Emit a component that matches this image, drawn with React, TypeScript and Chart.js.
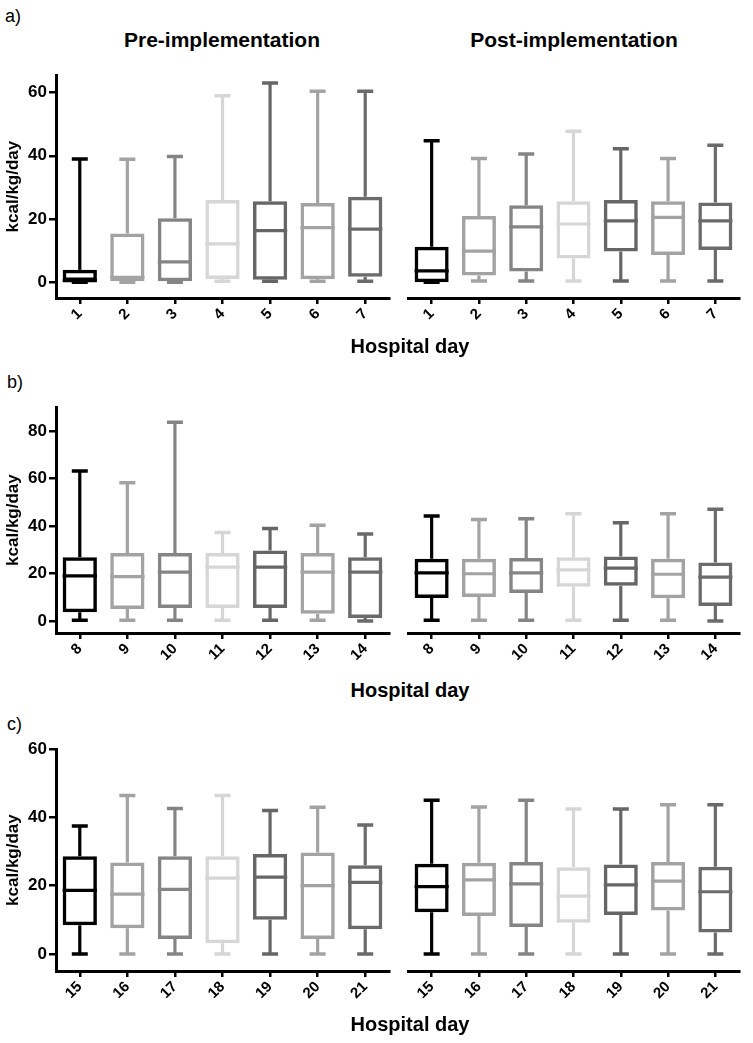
import React, { useEffect, useRef } from 'react';
import { Chart, registerables } from 'chart.js';

Chart.register(...registerables);

const FONT = 'Arial, "Liberation Sans", Helvetica, sans-serif';

// ---------- categories ----------
const daysA = ['1', '2', '3', '4', '5', '6', '7'];
const daysB = ['8', '9', '10', '11', '12', '13', '14'];
const daysC = ['15', '16', '17', '18', '19', '20', '21'];

// ---------- tick labels ----------
const ticksA = [0, 20, 40, 60];
const ticksB = [0, 20, 40, 60, 80];
const ticksC = [0, 20, 40, 60];

// ---------- box colours (per hospital day within a panel) ----------
const boxColors = ['#000000', '#a3a3a3', '#858585', '#d6d6d6', '#666666', '#a3a3a3', '#6b6b6b'];

// ---------- a) Pre-implementation ----------
const preA_min = [0, 0, 0, 0.3, 0.3, 0.3, 0.3];
const preA_q1 = [0, 0.3, 0.3, 1, 0.8, 0.9, 1.7];
const preA_med = [0.5, 1.5, 6.4, 12.1, 16.3, 17.3, 16.8];
const preA_q3 = [3.9, 15.4, 20.2, 26, 25.6, 25.1, 27];
const preA_max = [39, 38.9, 39.8, 59, 63, 60.4, 60.4];

// ---------- a) Post-implementation ----------
const postA_min = [0, 0.4, 0.4, 0.4, 0.4, 0.4, 0.4];
const postA_q1 = [0, 2.1, 3.4, 7.5, 9.7, 8.6, 10.2];
const postA_med = [3.6, 9.8, 17.5, 18.4, 19.4, 20.5, 19.4];
const postA_q3 = [11.2, 20.9, 24.3, 25.6, 26, 25.6, 25.2];
const postA_max = [44.7, 39.1, 40.5, 47.7, 42.2, 39.1, 43.3];

// ---------- b) Pre-implementation ----------
const preB_min = [0.4, 0.4, 0.4, 0.4, 0.4, 0.4, 0];
const preB_q1 = [3.7, 5.1, 5.5, 5.5, 5.5, 3.1, 1.3];
const preB_med = [19, 18.7, 20.6, 22.7, 22.7, 20.6, 20.6];
const preB_q3 = [26.9, 28.7, 28.7, 28.7, 29.7, 28.7, 26.9];
const preB_max = [63.2, 58.2, 83.7, 37.3, 39, 40.3, 36.6];

// ---------- b) Post-implementation ----------
const postB_min = [0.4, 0.4, 0.4, 0.4, 0.4, 0.4, 0];
const postB_q1 = [9.7, 10.1, 11.8, 14.4, 14.9, 9.6, 6.3];
const postB_med = [20.3, 19.9, 20.3, 21.5, 22.3, 19.7, 18.5];
const postB_q3 = [26.2, 26.2, 26.5, 26.8, 27.2, 26.2, 24.6];
const postB_max = [44.2, 42.7, 43, 45.1, 41.3, 45.1, 47];

// ---------- c) Pre-implementation ----------
const preC_min = [0, 0, 0, 0, 0, 0, 0];
const preC_q1 = [8.4, 7.5, 4.4, 3.1, 10, 4.4, 7.2];
const preC_med = [18.6, 17.5, 18.9, 22.2, 22.5, 20, 21];
const preC_q3 = [28.6, 26.8, 28.6, 28.6, 29.3, 29.7, 26];
const preC_max = [37.5, 46.4, 42.6, 46.4, 42, 43, 37.8];

// ---------- c) Post-implementation ----------
const postC_min = [0, 0, 0, 0, 0, 0, 0];
const postC_q1 = [12.2, 11.1, 7.9, 9.1, 11.4, 12.7, 6.3];
const postC_med = [19.7, 21.7, 20.5, 16.9, 20.2, 21.3, 18.2];
const postC_q3 = [26.4, 26.7, 26.9, 25.4, 26.2, 26.9, 25.5];
const postC_max = [45, 43, 45, 42.4, 42.4, 43.7, 43.7];

type PanelProps = {
  labels: string[];
  mins: number[];
  q1s: number[];
  meds: number[];
  q3s: number[];
  maxs: number[];
  yMin: number;
  yMax: number;
  yTicks: number[];
  chartTop: number;
  chartBottom: number;
  side: 'pre' | 'post';
};

const PAD_TOP = 12;
const X_AXIS_H = 45;

function Panel(p: PanelProps) {
  const ref = useRef<HTMLCanvasElement | null>(null);
  const isPre = p.side === 'pre';
  const canvasLeft = isPre ? 0 : 396;
  const canvasWidth = isPre ? 392 : 357;
  const padLeft = isPre ? 0 : 12;
  const padRight = isPre ? 3 : 14;
  const canvasTop = p.chartTop - PAD_TOP;
  const canvasHeight = p.chartBottom - p.chartTop + PAD_TOP + X_AXIS_H;

  useEffect(() => {
    if (!ref.current) return;
    const whiskers = {
      id: 'whiskers',
      afterDatasetsDraw(chart: any) {
        const ctx = chart.ctx;
        const y = chart.scales.y;
        const meta = chart.getDatasetMeta(0);
        meta.data.forEach((el: any, i: number) => {
          const x = el.x;
          const w = el.width;
          const col = boxColors[i % boxColors.length];
          const pMin = y.getPixelForValue(p.mins[i]);
          const pQ1 = y.getPixelForValue(p.q1s[i]);
          const pMed = y.getPixelForValue(p.meds[i]);
          const pQ3 = y.getPixelForValue(p.q3s[i]);
          const pMax = y.getPixelForValue(p.maxs[i]);
          ctx.save();
          ctx.strokeStyle = col;
          ctx.lineCap = 'butt';
          ctx.lineWidth = 3.2;
          ctx.beginPath();
          ctx.moveTo(x, pQ3);
          ctx.lineTo(x, pMax);
          ctx.moveTo(x, pQ1);
          ctx.lineTo(x, pMin);
          ctx.stroke();
          ctx.lineWidth = 3.5;
          ctx.beginPath();
          ctx.moveTo(x - 8, pMax);
          ctx.lineTo(x + 8, pMax);
          ctx.moveTo(x - 8, pMin);
          ctx.lineTo(x + 8, pMin);
          ctx.stroke();
          ctx.lineWidth = 3.2;
          ctx.beginPath();
          ctx.moveTo(x - w / 2, pMed);
          ctx.lineTo(x + w / 2, pMed);
          ctx.stroke();
          ctx.restore();
        });
      },
    };

    const chart = new Chart(ref.current, {
      type: 'bar',
      data: {
        labels: p.labels,
        datasets: [
          {
            data: p.q1s.map((q, i) => [q, p.q3s[i]]) as any,
            backgroundColor: 'rgba(255,255,255,0)',
            borderColor: p.labels.map((_, i) => boxColors[i % boxColors.length]),
            borderWidth: 3.5,
            borderSkipped: false,
            categoryPercentage: 1,
            barPercentage: 0.72,
          },
        ],
      },
      options: {
        responsive: false,
        animation: false,
        devicePixelRatio: 1,
        layout: { padding: { top: PAD_TOP, left: padLeft, right: padRight, bottom: 0 } },
        plugins: {
          legend: { display: false },
          tooltip: { enabled: false },
        },
        scales: {
          x: {
            type: 'category',
            offset: true,
            afterFit: (s: any) => {
              s.height = X_AXIS_H;
            },
            grid: {
              display: true,
              offset: false,
              drawOnChartArea: false,
              drawTicks: true,
              tickLength: 6,
              lineWidth: 2.5,
              color: '#000',
            },
            border: { display: true, color: '#000', width: 3 },
            ticks: {
              autoSkip: false,
              minRotation: 45,
              maxRotation: 45,
              padding: 1,
              color: '#000',
              font: { family: FONT, size: 15, weight: 'bold' },
            },
          },
          y: {
            type: 'linear',
            display: isPre,
            min: p.yMin,
            max: p.yMax,
            afterBuildTicks: (s: any) => {
              s.ticks = p.yTicks.map((v) => ({ value: v }));
            },
            afterFit: (s: any) => {
              s.width = isPre ? 56 : 0;
            },
            grid: {
              display: true,
              drawOnChartArea: false,
              drawTicks: true,
              tickLength: 7,
              lineWidth: 2.5,
              color: '#000',
            },
            border: { display: true, color: '#000', width: 3 },
            ticks: {
              padding: 2,
              color: '#000',
              font: { family: FONT, size: 17, weight: 'bold' },
            },
            title: {
              display: true,
              text: 'kcal/kg/day',
              color: '#000',
              padding: { top: 3, bottom: 0 },
              font: { family: FONT, size: 17, weight: 'bold' },
            },
          },
        },
      },
      plugins: [whiskers],
    } as any);
    return () => chart.destroy();
  }, []);

  return (
    <canvas
      ref={ref}
      width={canvasWidth}
      height={canvasHeight}
      style={{
        position: 'absolute',
        left: canvasLeft,
        top: canvasTop,
        width: canvasWidth,
        height: canvasHeight,
      }}
    />
  );
}

function Txt(props: { x: number; baseline: number; size: number; bold?: boolean; center?: boolean; children: any }) {
  const { x, baseline, size, bold, center, children } = props;
  return (
    <div
      style={{
        position: 'absolute',
        left: x,
        top: baseline - 0.8465 * size,
        fontFamily: FONT,
        fontSize: size,
        lineHeight: `${size}px`,
        fontWeight: bold ? 'bold' : 'normal',
        color: '#000',
        whiteSpace: 'nowrap',
        transform: center ? 'translateX(-50%)' : undefined,
      }}
    >
      {children}
    </div>
  );
}

export default function App() {
  const rowA = { yMin: -5, yMax: 65.5, yTicks: ticksA, chartTop: 75, chartBottom: 298 };
  const rowB = { yMin: -5, yMax: 90, yTicks: ticksB, chartTop: 407, chartBottom: 633 };
  const rowC = { yMin: -5, yMax: 60, yTicks: ticksC, chartTop: 748.5, chartBottom: 971 };
  return (
    <div
      style={{
        position: 'absolute',
        left: 0,
        top: 0,
        width: 753,
        height: 1043,
        background: '#fff',
        overflow: 'hidden',
      }}
    >
      <Txt x={5} baseline={22} size={18}>a)</Txt>
      <Txt x={222} baseline={46.7} size={21} bold center>Pre-implementation</Txt>
      <Txt x={574} baseline={46.7} size={21} bold center>Post-implementation</Txt>
      <Panel labels={daysA} mins={preA_min} q1s={preA_q1} meds={preA_med} q3s={preA_q3} maxs={preA_max} {...rowA} side="pre" />
      <Panel labels={daysA} mins={postA_min} q1s={postA_q1} meds={postA_med} q3s={postA_q3} maxs={postA_max} {...rowA} side="post" />
      <Txt x={410} baseline={353} size={20} bold center>Hospital day</Txt>

      <Txt x={7} baseline={388} size={18}>b)</Txt>
      <Panel labels={daysB} mins={preB_min} q1s={preB_q1} meds={preB_med} q3s={preB_q3} maxs={preB_max} {...rowB} side="pre" />
      <Panel labels={daysB} mins={postB_min} q1s={postB_q1} meds={postB_med} q3s={postB_q3} maxs={postB_max} {...rowB} side="post" />
      <Txt x={410} baseline={697} size={20} bold center>Hospital day</Txt>

      <Txt x={7} baseline={730} size={18}>c)</Txt>
      <Panel labels={daysC} mins={preC_min} q1s={preC_q1} meds={preC_med} q3s={preC_q3} maxs={preC_max} {...rowC} side="pre" />
      <Panel labels={daysC} mins={postC_min} q1s={postC_q1} meds={postC_med} q3s={postC_q3} maxs={postC_max} {...rowC} side="post" />
      <Txt x={410} baseline={1031} size={20} bold center>Hospital day</Txt>
    </div>
  );
}
